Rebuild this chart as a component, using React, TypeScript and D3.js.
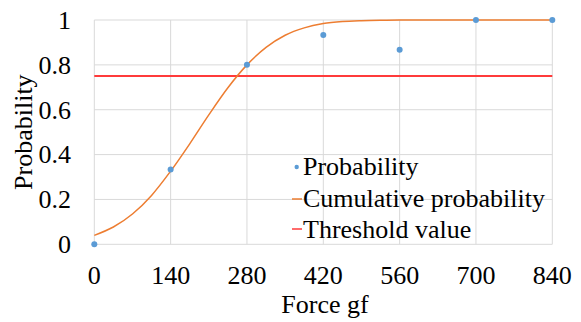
import React from "react";
import * as d3 from "d3";

const pointForces = [0, 140, 280, 420, 560, 700, 840];
const pointProbs = [0, 0.333, 0.8, 0.933, 0.867, 1, 1];

const curveForces = [0, 35, 70, 105, 140, 175, 210, 245, 280, 315, 350, 385, 420, 455, 490, 525, 560, 630, 700, 770, 840];
const curveProbs = [0.04, 0.077, 0.135, 0.218, 0.326, 0.448, 0.577, 0.698, 0.8, 0.878, 0.932, 0.965, 0.984, 0.993, 0.997, 0.999, 1, 1, 1, 1, 1];

const threshold = 0.75;

const xTicks = [0, 140, 280, 420, 560, 700, 840];
const yTicks = [0, 0.2, 0.4, 0.6, 0.8, 1];

const legendLabels = ["Probability", "Cumulative probability", "Threshold value"];

export default function App() {
  const W = 581, H = 322;
  const x = d3.scaleLinear().domain([0, 840]).range([94.3, 552.3]);
  const y = d3.scaleLinear().domain([0, 1]).range([244.3, 20]);
  const line = d3
    .line<number>()
    .x((_, i) => x(curveForces[i]))
    .y((d) => y(d))
    .curve(d3.curveMonotoneX);
  const font = "'Liberation Serif', 'Times New Roman', serif";
  const fs = 26;
  return (
    <svg width={W} height={H} style={{ position: "absolute", left: 0, top: 0 }}>
      <rect width={W} height={H} fill="#fff" />
      {yTicks.map((t) => (
        <line key={"gy" + t} x1={x(0)} x2={x(840)} y1={y(t)} y2={y(t)} stroke="#d9d9d9" strokeWidth={1} />
      ))}
      {xTicks.map((t) => (
        <line key={"gx" + t} x1={x(t)} x2={x(t)} y1={y(0)} y2={y(1)} stroke="#d9d9d9" strokeWidth={1} />
      ))}
      <line x1={x(0)} x2={x(840)} y1={y(threshold)} y2={y(threshold)} stroke="#ff3b3b" strokeWidth={2} />
      <path d={line(curveProbs) || ""} fill="none" stroke="#ed7d31" strokeWidth={1.5} />
      {pointForces.map((f, i) => (
        <circle key={"p" + i} cx={x(f)} cy={y(pointProbs[i])} r={3} fill="#5b9bd5" />
      ))}
      {yTicks.map((t) => (
        <text key={"ty" + t} x={71} y={y(t) + 8.8} textAnchor="end" fontFamily={font} fontSize={fs} fill="#000">
          {d3.format("~g")(t)}
        </text>
      ))}
      {xTicks.map((t) => (
        <text key={"tx" + t} x={x(t)} y={284} textAnchor="middle" fontFamily={font} fontSize={fs} fill="#000">
          {t}
        </text>
      ))}
      <text x={325} y={313} textAnchor="middle" fontFamily={font} fontSize={fs} fill="#000">
        Force gf
      </text>
      <text
        transform={`translate(32,${(y(0) + y(1)) / 2}) rotate(-90)`}
        textAnchor="middle"
        fontFamily={font}
        fontSize={fs}
        fill="#000"
      >
        Probability
      </text>
      <g>
        <circle cx={296.7} cy={167} r={2.2} fill="#5b9bd5" />
        <line x1={292} x2={302} y1={199} y2={199} stroke="#ed7d31" strokeWidth={1.5} />
        <line x1={292} x2={302} y1={229} y2={229} stroke="#ff3b3b" strokeWidth={1.5} />
        {legendLabels.map((l, i) => (
          <text key={l} x={303} y={175 + i * 31.5} fontFamily={font} fontSize={fs} fill="#000">
            {l}
          </text>
        ))}
      </g>
    </svg>
  );
}
